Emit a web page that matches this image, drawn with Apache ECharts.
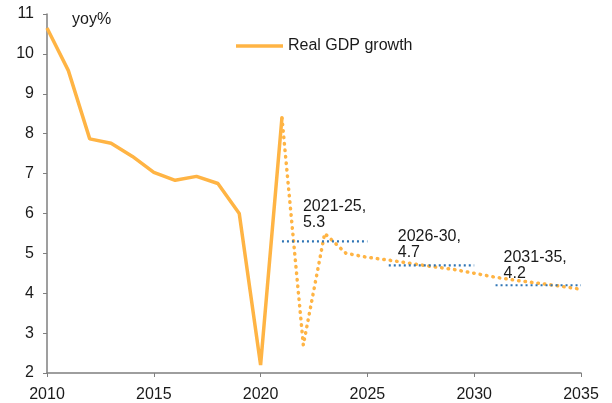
<!DOCTYPE html>
<html><head><meta charset="utf-8">
<script src="https://cdn.jsdelivr.net/npm/echarts@6/dist/echarts.min.js"></script>
<style>html,body{margin:0;padding:0;background:#fff}#c{width:612px;height:403px}</style>
</head><body><div id="c"></div>
<script>
const histYears = [2010,2011,2012,2013,2014,2015,2016,2017,2018,2019,2020,2021];
const histValues = [10.65,9.58,7.87,7.76,7.43,7.03,6.83,6.93,6.75,6.0,2.2,8.4];
const fcstYears = [2021,2022,2023,2024,2025,2026,2027,2028,2029,2030,2031,2032,2033,2034,2035];
const fcstValues = [8.4,2.7,5.5,5.0,4.9,4.83,4.75,4.67,4.6,4.5,4.4,4.32,4.25,4.18,4.1];
const avgPeriods = [[2021,2025],[2026,2030],[2031,2035]];
const avgValues = [5.3,4.7,4.2];
const avgLabels = ['2021-25,\n5.3','2026-30,\n4.7','2031-35,\n4.2'];
const avgLabelOffsets = [[21,-27],[9,-21],[8,-20]];

const orange = '#FFB444';
const blue = '#2F75B5';
const font = 'Liberation Sans, Arial, sans-serif';

const series = [
  {name:'Real GDP growth', type:'line', symbol:'none', z:3,
   data: histYears.map((y,i)=>[y,histValues[i]]),
   lineStyle:{color:orange,width:3.5}, itemStyle:{color:orange}},
  {name:'forecast', type:'line', symbol:'none', z:2,
   data: fcstYears.map((y,i)=>[y,fcstValues[i]]),
   lineStyle:{color:orange,width:3.5,type:[0.5,6],cap:'round'}, itemStyle:{color:orange}}
];
avgPeriods.forEach((p,i)=>{
  series.push({name:'avg'+i, type:'line', symbol:'none', z:4,
    data:[[p[0],avgValues[i]],[p[1],avgValues[i]]],
    lineStyle:{color:blue,width:2.2,type:[2,3]}, itemStyle:{color:blue}});
});
series.push({name:'avgLabels', type:'scatter', symbolSize:0, z:5, silent:true,
  data: avgPeriods.map((p,i)=>({value:[p[0],avgValues[i]],
    label:{show:true, formatter:avgLabels[i], position:avgLabelOffsets[i],
      color:'#1a1a1a', fontSize:16, fontFamily:font, lineHeight:16, align:'left', verticalAlign:'middle'}})),
  itemStyle:{color:blue, opacity:1}, labelLayout:{hideOverlap:false}});

const chart = echarts.init(document.getElementById('c'));
chart.setOption({
  animation:false,
  grid:{left:47,right:31,top:14,bottom:30,containLabel:false},
  legend:{data:[{name:'Real GDP growth', icon:'rect'}], left:231, top:33, itemWidth:47, itemHeight:3.5, itemGap:5,
    textStyle:{color:'#1a1a1a',fontSize:16,fontFamily:font}},
  graphic:[{type:'text', left:72, top:12, style:{text:'yoy%', fill:'#1a1a1a', font:'16px '+font}}],
  xAxis:{type:'value', min:2010, max:2035, interval:5,
    axisLine:{lineStyle:{color:'#7f7f7f',width:1.5}},
    axisTick:{show:true,length:4,lineStyle:{color:'#7f7f7f'}},
    axisLabel:{color:'#1a1a1a',fontSize:16,fontFamily:font,margin:14,formatter:v=>String(v)},
    splitLine:{show:false}},
  yAxis:{type:'value', min:2, max:11, interval:1,
    axisLine:{show:true,lineStyle:{color:'#7f7f7f',width:1.5}},
    axisTick:{show:true,length:4,lineStyle:{color:'#7f7f7f'}},
    axisLabel:{color:'#1a1a1a',fontSize:16,fontFamily:font,margin:13},
    splitLine:{show:false}},
  series: series
});
</script></body></html>
